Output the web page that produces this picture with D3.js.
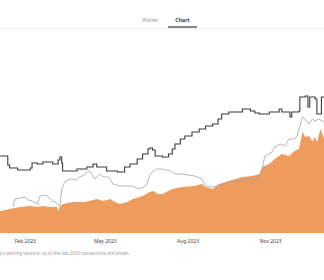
<!DOCTYPE html>
<html>
<head>
<meta charset="utf-8">
<script src="https://cdn.jsdelivr.net/npm/d3@7"></script>
<style>
  html, body { margin: 0; padding: 0; background: #fff; }
  svg { display: block; }
  text { font-family: "Noto Sans", "DejaVu Sans", sans-serif; }
</style>
</head>
<body>
<svg id="chart" width="324" height="280"></svg>
<script>
// ---- data ----
const tabLabels = ["Wallet", "Chart"];
const tickLabels = ["Feb 2023", "May 2023", "Aug 2023", "Nov 2023"];
const tickDates = ["2023-02-01", "2023-05-01", "2023-08-01", "2023-11-01"];
const footnote = "y's starting balance, up to the last 2000 transactions are shown.";

// starting balance (step line)
const startDates = ["2023-01-01","2023-01-13","2023-01-15","2023-01-24","2023-02-07","2023-02-09","2023-02-15","2023-02-21","2023-03-04","2023-03-10","2023-03-12","2023-03-14","2023-03-15","2023-03-31","2023-04-11","2023-04-18","2023-04-22","2023-05-03","2023-05-15","2023-05-23","2023-05-29","2023-06-06","2023-06-12","2023-06-18","2023-06-20","2023-06-23","2023-06-26","2023-07-04","2023-07-11","2023-07-15","2023-07-18","2023-07-24","2023-07-29","2023-08-06","2023-08-14","2023-08-21","2023-08-29","2023-09-04","2023-09-08","2023-09-16","2023-10-01","2023-10-10","2023-10-15","2023-10-20","2023-10-31","2023-11-11","2023-11-14","2023-11-23","2023-11-25","2023-12-03","2023-12-04","2023-12-10","2023-12-13","2023-12-15","2023-12-21","2023-12-23","2023-12-28","2023-12-31"];
const startValues = [77,68,65,63,65,70,69,71,69,73,76,70,62,64,66,69,66,62,61,66,69,74,79,84,85,83,77,76,79,84,89,94,97,101,104,107,109,114,119,121,124,122,120,119,121,124,121,116,121,122,136,137,126,136,134,119,136,136];

// balance (thin grey line)
const balanceDates = ["2023-01-19","2023-01-21","2023-01-27","2023-02-01","2023-02-05","2023-02-09","2023-02-15","2023-02-18","2023-02-22","2023-02-26","2023-03-04","2023-03-10","2023-03-12","2023-03-14","2023-03-18","2023-03-25","2023-03-30","2023-04-03","2023-04-08","2023-04-11","2023-04-14","2023-04-20","2023-04-26","2023-04-29","2023-05-05","2023-05-10","2023-05-18","2023-05-26","2023-06-01","2023-06-07","2023-06-13","2023-06-17","2023-06-20","2023-06-23","2023-06-28","2023-07-04","2023-07-13","2023-07-18","2023-07-26","2023-08-09","2023-08-17","2023-08-21","2023-08-29","2023-09-03","2023-09-08","2023-09-16","2023-09-27","2023-10-08","2023-10-20","2023-10-23","2023-10-26","2023-10-30","2023-11-03","2023-11-06","2023-11-12","2023-11-17","2023-11-22","2023-11-28","2023-12-01","2023-12-04","2023-12-07","2023-12-10","2023-12-14","2023-12-18","2023-12-21","2023-12-25","2023-12-31"];
const balanceValues = [26,34,35,36,33,32,29,37,38,37,32,29,26,44,52,54,53,56,58,61,62,54,59,56,56,49,47,47,47,44,46,49,58,61,64,64,62,59,59,57,54,47,46,47,49,51,52,54,56,64,77,79,81,86,89,87,94,94,97,107,116,114,109,114,112,114,111];

// balance excluding fees (orange area)
const areaDates = ["2023-01-01","2023-01-15","2023-01-27","2023-02-07","2023-02-15","2023-02-21","2023-03-01","2023-03-09","2023-03-10","2023-03-12","2023-03-15","2023-03-27","2023-04-07","2023-04-14","2023-04-22","2023-04-29","2023-05-07","2023-05-12","2023-05-18","2023-05-26","2023-06-01","2023-06-12","2023-06-20","2023-06-24","2023-06-29","2023-07-04","2023-07-15","2023-07-26","2023-08-09","2023-08-17","2023-08-21","2023-08-29","2023-09-05","2023-09-16","2023-10-01","2023-10-12","2023-10-20","2023-10-23","2023-10-31","2023-11-06","2023-11-14","2023-11-22","2023-11-28","2023-12-03","2023-12-07","2023-12-10","2023-12-14","2023-12-18","2023-12-21","2023-12-23","2023-12-27","2023-12-31"];
const areaValues = [21,24,26,27,26,27,26,26,22,26,29,31,31,32,34,32,34,31,29,31,34,37,41,42,39,39,44,46,47,49,46,44,49,52,56,57,59,66,69,74,79,77,82,84,101,96,97,92,96,91,104,94];

// ---- chart ----
const W = 324, H = 280;
const svg = d3.select("#chart");
const parse = d3.timeParse("%Y-%m-%d");

const x = d3.scaleTime()
  .domain([parse("2023-01-01"), parse("2024-01-01")])
  .range([-3, 325]);
const y = d3.scaleLinear().domain([0, 150]).range([233, 83]);

// tabs
svg.append("line").attr("x1", 0).attr("x2", W).attr("y1", 28.5).attr("y2", 28.5)
  .attr("stroke", "#f0f0f0").attr("stroke-width", 1);
svg.append("text").text(tabLabels[0]).attr("x", 150).attr("y", 21.5)
  .attr("text-anchor", "middle").attr("font-size", 5.3).attr("fill", "#9a9a9a");
svg.append("text").text(tabLabels[1]).attr("x", 182.5).attr("y", 21.5)
  .attr("text-anchor", "middle").attr("font-size", 5.3).attr("font-weight", 600).attr("fill", "#222");
svg.append("line").attr("x1", 168).attr("x2", 197).attr("y1", 27).attr("y2", 27)
  .attr("stroke", "#444").attr("stroke-width", 1.3);

// area
const areaData = areaDates.map((d, i) => ({ date: parse(d), value: areaValues[i] }));
svg.append("path").datum(areaData)
  .attr("fill", "#ee9b5e")
  .attr("d", d3.area().x(d => x(d.date)).y0(y(0)).y1(d => y(d.value)));

// grey balance line
const balData = balanceDates.map((d, i) => ({ date: parse(d), value: balanceValues[i] }));
svg.append("path").datum(balData)
  .attr("fill", "none").attr("stroke", "#a3a3a3").attr("stroke-width", 0.8)
  .attr("d", d3.line().x(d => x(d.date)).y(d => y(d.value)));

// black step line
const startData = startDates.map((d, i) => ({ date: parse(d), value: startValues[i] }));
svg.append("path").datum(startData)
  .attr("fill", "none").attr("stroke", "#3a3a3a").attr("stroke-width", 1.1)
  .attr("d", d3.line().curve(d3.curveStepAfter).x(d => x(d.date)).y(d => y(d.value)));

// x axis labels
const axis = d3.axisBottom(x)
  .tickValues(tickDates.map(parse))
  .tickFormat((d, i) => tickLabels[i])
  .tickSize(0).tickPadding(6);
const gx = svg.append("g").attr("transform", `translate(0,${y(0)})`).call(axis);
gx.select(".domain").remove();
gx.selectAll("text").attr("font-size", 5).attr("fill", "#444")
  .attr("font-family", "\"Noto Sans\", sans-serif");

// footnote
svg.append("text").text(footnote).attr("x", 130).attr("y", 255)
  .attr("text-anchor", "end").attr("font-size", 4.4).attr("fill", "#a0a0a0");
</script>
</body>
</html>
